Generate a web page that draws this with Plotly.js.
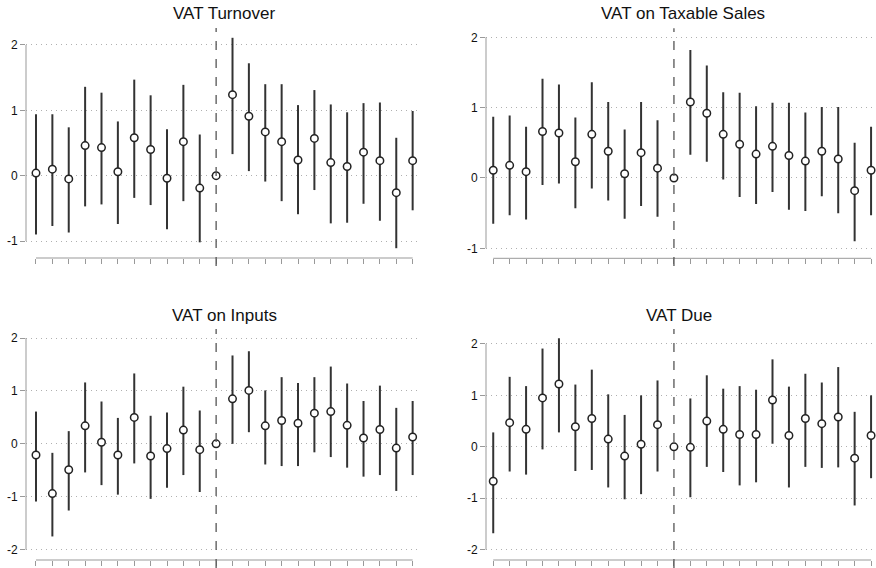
<!DOCTYPE html>
<html>
<head>
<meta charset="utf-8">
<script src="https://cdn.plot.ly/plotly-3.0.1.min.js"></script>
<style>html,body{margin:0;padding:0;background:#fff;}#chart{width:876px;height:568px;}</style>
</head>
<body>
<div id="chart"></div>
<script>
// Event time (periods relative to reform)
const periods = [-11,-10,-9,-8,-7,-6,-5,-4,-3,-2,-1,0,1,2,3,4,5,6,7,8,9,10,11,12];

// VAT Turnover
const turnoverEst = [0.04,0.10,-0.05,0.46,0.43,0.06,0.58,0.40,-0.04,0.52,-0.19,0.00,1.24,0.91,0.67,0.52,0.24,0.57,0.20,0.14,0.36,0.23,-0.26,0.23];
const turnoverHi  = [0.94,0.94,0.74,1.36,1.27,0.83,1.47,1.23,0.71,1.39,0.63,0.00,2.11,1.72,1.40,1.40,1.08,1.31,1.09,0.97,1.11,1.12,0.58,0.99];
const turnoverLo  = [-0.90,-0.77,-0.87,-0.47,-0.44,-0.74,-0.34,-0.45,-0.82,-0.39,-1.02,0.00,0.33,0.07,-0.09,-0.39,-0.59,-0.22,-0.73,-0.72,-0.43,-0.69,-1.11,-0.53];

// VAT on Taxable Sales
const salesEst = [0.11,0.18,0.09,0.66,0.64,0.23,0.62,0.38,0.06,0.36,0.14,0.00,1.08,0.92,0.62,0.48,0.34,0.45,0.32,0.24,0.38,0.27,-0.18,0.11];
const salesHi  = [0.87,0.89,0.73,1.41,1.33,0.86,1.36,1.08,0.69,1.08,0.82,0.00,1.82,1.60,1.22,1.21,1.02,1.07,1.07,0.93,1.01,1.01,0.50,0.73];
const salesLo  = [-0.65,-0.53,-0.59,-0.10,-0.08,-0.43,-0.15,-0.32,-0.58,-0.40,-0.55,0.00,0.33,0.23,-0.02,-0.27,-0.37,-0.20,-0.45,-0.47,-0.26,-0.50,-0.90,-0.53];

// VAT on Inputs
const inputsEst = [-0.21,-0.94,-0.49,0.34,0.03,-0.21,0.50,-0.23,-0.09,0.26,-0.11,0.00,0.85,1.01,0.34,0.44,0.39,0.58,0.61,0.35,0.11,0.27,-0.08,0.13];
const inputsHi  = [0.61,-0.17,0.24,1.16,0.80,0.49,1.33,0.53,0.59,1.08,0.63,0.00,1.67,1.75,1.01,1.26,1.15,1.26,1.46,1.14,0.81,1.10,0.68,0.81];
const inputsLo  = [-1.09,-1.75,-1.26,-0.54,-0.78,-0.96,-0.37,-1.04,-0.83,-0.59,-0.91,0.00,0.00,0.22,-0.39,-0.42,-0.42,-0.16,-0.25,-0.45,-0.62,-0.59,-0.89,-0.59];

// VAT Due
const dueEst = [-0.67,0.47,0.34,0.95,1.22,0.39,0.55,0.15,-0.18,0.05,0.43,0.00,-0.01,0.50,0.34,0.24,0.24,0.91,0.22,0.55,0.45,0.58,-0.22,0.22];
const dueHi  = [0.28,1.36,1.18,1.91,2.11,1.21,1.50,1.02,0.62,1.00,1.29,0.00,0.94,1.39,1.13,1.18,1.11,1.70,1.17,1.42,1.25,1.55,0.68,1.00];
const dueLo  = [-1.68,-0.48,-0.54,-0.05,0.28,-0.47,-0.45,-0.79,-1.02,-0.92,-0.48,0.00,-0.98,-0.39,-0.49,-0.75,-0.69,0.06,-0.79,-0.39,-0.41,-0.40,-1.14,-0.61];

const titles = ["VAT Turnover","VAT on Taxable Sales","VAT on Inputs","VAT Due"];
const yTicks = [[-1,0,1,2],[-1,0,1,2],[-2,-1,0,1,2],[-2,-1,0,1,2]];
const yTickText = [["-1","0","1","2"],["-1","0","1","2"],["-2","-1","0","1","2"],["-2","-1","0","1","2"]];

const W = 876, H = 568;
const px = v => v / W;
const py = v => 1 - v / H;

// panel geometry (pixels)
const panels = [
  {xl:26,  xr:421, xrange:[-11.61,12.51], yt:28,  yb:258,   yrange:[-1.26,2.26],  titleX:224, titleY:14,  dashBottom:266},
  {xl:486, xr:876, xrange:[-11.44,12.30], yt:28.3,yb:258.3, yrange:[-1.142,2.128],titleX:683, titleY:14,  dashBottom:266},
  {xl:26,  xr:421, xrange:[-11.61,12.51], yt:329, yb:560,   yrange:[-2.195,2.17], titleX:224, titleY:315, dashBottom:568},
  {xl:486, xr:876, xrange:[-11.44,12.30], yt:329, yb:560,   yrange:[-2.2,2.29],   titleX:679, titleY:315, dashBottom:568}
];

const series = [
  [turnoverEst, turnoverHi, turnoverLo],
  [salesEst, salesHi, salesLo],
  [inputsEst, inputsHi, inputsLo],
  [dueEst, dueHi, dueLo]
];

const traces = [];
const layout = {
  width: W, height: H,
  margin: {l:0, r:0, t:0, b:0},
  paper_bgcolor: '#fff', plot_bgcolor: '#fff',
  showlegend: false,
  font: {family: 'Liberation Sans, Arial, Helvetica, sans-serif', color: '#111'},
  shapes: [], annotations: []
};

const axisGrey = '#999';

series.forEach((s, i) => {
  const n = i === 0 ? '' : String(i + 1);
  const est = s[0], hi = s[1], lo = s[2];
  const p = panels[i];
  traces.push({
    type: 'scatter', mode: 'markers',
    x: periods, y: est,
    xaxis: 'x' + n, yaxis: 'y' + n,
    cliponaxis: false,
    marker: {symbol: 'circle', size: 7.5, color: '#fff', line: {color: '#222', width: 1.5}},
    error_y: {
      type: 'data', symmetric: false,
      array: est.map((e, k) => hi[k] - e),
      arrayminus: est.map((e, k) => e - lo[k]),
      width: 0, thickness: 2, color: '#333'
    },
    hoverinfo: 'x+y'
  });
  layout['xaxis' + n] = {
    domain: [px(p.xl), px(p.xr)], range: p.xrange, anchor: 'y' + n,
    showgrid: false, zeroline: false, showline: false,
    tickmode: 'array', tickvals: periods, showticklabels: false,
    ticks: 'outside', ticklen: 5, tickwidth: 1, tickcolor: axisGrey,
    fixedrange: true
  };
  layout['yaxis' + n] = {
    domain: [py(p.yb), py(p.yt)], range: p.yrange, anchor: 'x' + n,
    showgrid: true, gridcolor: '#b0b0b0', gridwidth: 1, griddash: '1px,4px',
    zeroline: false, showline: false,
    tickmode: 'array', tickvals: yTicks[i], ticktext: yTickText[i],
    ticks: 'outside', ticklen: 5, tickwidth: 1, tickcolor: axisGrey,
    tickfont: {size: 12, color: '#111'},
    fixedrange: true
  };
  // y axis line between outer ticks
  layout.shapes.push({type: 'line', xref: 'paper', yref: 'y' + n,
    x0: px(p.xl), x1: px(p.xl), y0: yTicks[i][0], y1: yTicks[i][yTicks[i].length - 1],
    line: {color: axisGrey, width: 1}});
  // x axis line between first and last tick
  layout.shapes.push({type: 'line', xref: 'x' + n, yref: 'paper',
    x0: periods[0], x1: periods[periods.length - 1], y0: py(p.yb), y1: py(p.yb),
    line: {color: axisGrey, width: 1}});
  // dashed reform line
  layout.shapes.push({type: 'line', xref: 'x' + n, yref: 'paper',
    x0: 0, x1: 0, y0: py(p.dashBottom), y1: py(p.yt),
    line: {color: '#555', width: 1.3, dash: 'dash'}});
  layout.annotations.push({text: titles[i], xref: 'paper', yref: 'paper',
    x: px(p.titleX), y: py(p.titleY), xanchor: 'center', yanchor: 'middle',
    showarrow: false, font: {size: 17, color: '#111'}});
});

Plotly.newPlot('chart', traces, layout, {staticPlot: true, displayModeBar: false});
</script>
</body>
</html>
